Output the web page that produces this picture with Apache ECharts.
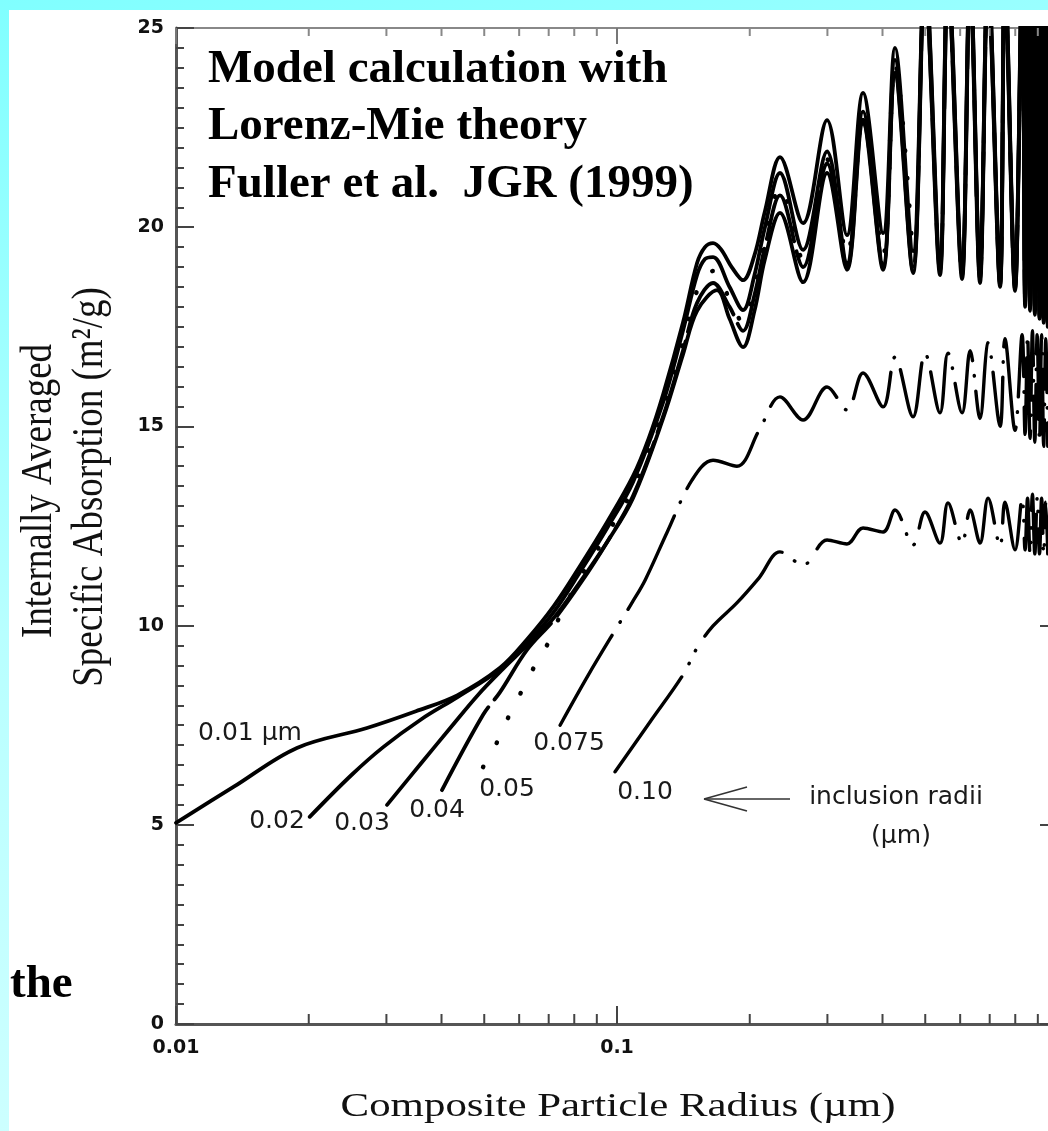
<!DOCTYPE html>
<html><head><meta charset="utf-8">
<script src="https://cdn.jsdelivr.net/npm/echarts@6/dist/echarts.min.js"></script>
<style>
html,body{margin:0;padding:0;}
body{width:1048px;height:1131px;position:relative;overflow:hidden;background:linear-gradient(165deg,#80ffff 0%,#b8ffff 45%,#d8ffff 100%);}
#paper{position:absolute;left:9px;top:10px;right:0;bottom:0;background:#fff;}
#chart{position:absolute;left:0;top:0;width:1048px;height:1131px;}
</style></head><body><div id="paper"></div><div id="chart"></div>
<script>
// ---------- data ----------
const xTickLabels = ['0.01', '0.1', '1'];
const minorXTicks = [0.02,0.03,0.04,0.05,0.06,0.07,0.08,0.09,0.2,0.3,0.4,0.5,0.6,0.7,0.8,0.9];

const r001 = [[0.01,5.05],[0.0135,5.95],[0.0188,6.93],[0.0271,7.43],[0.035,7.85],[0.0434,8.25],[0.0543,8.94],[0.0625,9.65],[0.072,10.5],[0.0825,11.5],[0.095,12.6],[0.1087,13.75],[0.118,14.7],[0.1272,15.8],[0.1411,17.6],[0.1519,19.1],[0.1583,19.5],[0.1651,19.6],[0.172,19.45],[0.182,19.0],[0.1931,18.67],[0.205,19.3],[0.2165,20.4],[0.2342,21.76],[0.2642,20.1],[0.2994,22.69],[0.3323,19.8],[0.3613,23.37],[0.4012,19.85],[0.427,24.5],[0.4691,19.4],[0.4993,26.5],[0.540,19.3],[0.563,26.5],[0.606,19.1],[0.632,26.5],[0.6655,18.9],[0.694,26.5],[0.739,18.8],[0.758,26.5],[0.799,18.7],[0.829,26.5],[0.842,18.4],[0.853,26.5],[0.864,18.2],[0.875,26.5],[0.886,18.0],[0.897,26.5],[0.908,17.9],[0.918,26.5],[0.928,17.8],[0.938,26.5],[0.948,17.7]];

const r002 = [[0.0201,5.2],[0.025,6.25],[0.0295,6.95],[0.036,7.65],[0.0434,8.2],[0.0543,8.9],[0.0625,9.55],[0.072,10.35],[0.0825,11.35],[0.095,12.45],[0.1087,13.6],[0.1272,15.6],[0.1411,17.4],[0.1519,18.8],[0.1583,19.2],[0.1651,19.25],[0.18,18.5],[0.1931,17.92],[0.205,18.8],[0.2165,20.0],[0.2342,21.36],[0.2642,19.43],[0.2994,21.9],[0.3323,19.1],[0.3613,22.9],[0.4012,19.05],[0.427,24.2],[0.4691,19.0],[0.4993,26.5],[0.540,19.0],[0.563,26.5],[0.606,18.9],[0.632,26.5],[0.6655,18.8],[0.694,26.5],[0.739,18.6],[0.758,26.5],[0.799,18.5],[0.829,26.5],[0.842,18.2],[0.853,26.5],[0.864,18.0],[0.875,26.5],[0.886,17.9],[0.897,26.5],[0.908,17.8],[0.918,26.5],[0.928,17.7],[0.938,26.5],[0.948,17.6]];

const r003 = [[0.0301,5.5],[0.036,6.55],[0.042,7.45],[0.0484,8.26],[0.055,8.9],[0.0625,9.5],[0.072,10.2],[0.0825,11.1],[0.095,12.1],[0.1087,13.2],[0.1272,15.2],[0.1411,16.8],[0.1519,17.9],[0.1686,18.42],[0.18,17.7],[0.1931,16.99],[0.205,17.9],[0.2165,19.2],[0.2342,20.36],[0.2642,18.62],[0.2994,21.36],[0.3323,18.93],[0.3613,22.6],[0.4012,18.93],[0.427,23.8],[0.4691,18.85],[0.4993,26],[0.540,18.8],[0.563,26],[0.606,18.7],[0.632,26],[0.6655,18.6],[0.694,26],[0.739,18.5],[0.758,26],[0.799,18.4],[0.829,26],[0.842,18.0],[0.853,26],[0.864,17.9],[0.875,26],[0.886,17.8],[0.897,26],[0.908,17.7],[0.918,26],[0.928,17.6],[0.938,26],[0.948,17.5]];

const r004 = [[0.0401,5.87],[0.0497,7.76],[0.0543,8.33],[0.0625,9.39],[0.072,10.15],[0.0825,11.05],[0.095,12.1],[0.1087,13.25],[0.1272,15.25],[0.1411,16.9],[0.1519,18.1],[0.1651,18.6],[0.18,18.0],[0.1931,17.4],[0.205,18.3],[0.2165,19.5],[0.2342,20.8],[0.2642,19.0],[0.2994,21.6],[0.3323,19.0],[0.3613,22.7],[0.4012,19.0],[0.427,24.0],[0.4691,18.9],[0.4993,26.2],[0.540,18.9],[0.563,26.2],[0.606,18.8],[0.632,26.2],[0.6655,18.7],[0.694,26.2],[0.739,18.55],[0.758,26.2],[0.799,18.45],[0.829,26.2],[0.842,18.1],[0.853,26.2],[0.864,17.95],[0.875,26.2],[0.886,17.85],[0.897,26.2],[0.908,17.75],[0.918,26.2],[0.928,17.65],[0.938,26.2],[0.948,17.55]];

const r005 = [[0.0497,6.45],[0.0535,7.08],[0.0566,7.68],[0.0603,8.28],[0.0645,8.91],[0.0694,9.51],[0.0735,10.14],[0.0825,11.2],[0.095,12.3],[0.1087,13.45],[0.1272,15.45],[0.1411,17.1],[0.1519,18.4],[0.1651,18.9],[0.18,18.2],[0.1931,17.6],[0.205,18.5],[0.2165,19.7],[0.2342,21.0],[0.2642,19.2],[0.2994,21.7],[0.3323,19.3],[0.3613,22.8],[0.4012,19.3],[0.427,24.1],[0.4691,19.2]];

const r0075 = [[0.0743,7.5],[0.086,8.75],[0.1,9.96],[0.1081,10.57],[0.1158,11.14],[0.13,12.35],[0.1479,13.65],[0.1651,14.15],[0.187,14.0],[0.21,14.9],[0.2342,15.74],[0.2642,15.16],[0.2994,15.99],[0.3323,15.41],[0.3613,16.34],[0.4012,15.49],[0.427,16.74],[0.4691,15.24],[0.4993,16.84],[0.540,15.34],[0.563,16.84],[0.606,15.34],[0.632,16.9],[0.6655,15.2],[0.694,17.1],[0.739,15.0],[0.758,17.2],[0.799,14.9],[0.829,17.3],[0.842,14.8],[0.853,17.3],[0.864,14.7],[0.875,17.4],[0.886,14.6],[0.897,17.3],[0.908,14.6],[0.918,17.3],[0.928,14.5],[0.938,17.2],[0.948,14.5]];

const r010 = [[0.099,6.33],[0.1188,7.58],[0.1411,8.76],[0.1519,9.44],[0.1651,9.99],[0.187,10.57],[0.21,11.2],[0.2342,11.85],[0.2642,11.52],[0.2994,12.15],[0.3323,12.05],[0.3613,12.45],[0.4012,12.35],[0.427,12.9],[0.4691,12.02],[0.4993,12.85],[0.540,12.07],[0.563,13.08],[0.606,12.07],[0.632,12.9],[0.6655,12.07],[0.694,13.2],[0.739,12.0],[0.758,13.1],[0.799,11.9],[0.829,13.2],[0.842,11.9],[0.853,13.2],[0.864,11.8],[0.875,13.3],[0.886,11.8],[0.897,13.2],[0.908,11.8],[0.918,13.2],[0.928,11.8],[0.938,13.1],[0.948,11.8]];

const radiusLabels = ['0.01 µm','0.02','0.03','0.04','0.05','0.075','0.10'];
const titleLines = ['Model calculation with','Lorenz-Mie theory','Fuller et al.  JGR (1999)'];

// ---------- chart ----------
const chart = echarts.init(document.getElementById('chart'), null, {renderer:'canvas'});

function curve(name, data, extra) {
  return {
    type:'line', name: name, data: data, symbol:'none', showSymbol:false,
    smooth:0.35, clip:true, z:3,
    lineStyle:Object.assign({color:'#000', width:3.8, cap:'round', join:'round'}, extra || {})
  };
}

const sansLbl = {fontFamily:'DejaVu Sans', fontSize:25, fill:'#1a1a1a'};
function lbl(text, x, y, style) {
  return {type:'text', x:x, y:y, z:20, style:Object.assign({text:text, align:'center', verticalAlign:'middle', textAlign:'center', textVerticalAlign:'middle'}, sansLbl, style||{})};
}
const titleFont = {fontFamily:'"Liberation Serif","Times New Roman",serif', fontWeight:'bold', fontSize:47, fill:'#000'};
function ttl(text, x, y) {
  return {type:'text', x:x, y:y, z:20, style:Object.assign({text:text, align:'left', verticalAlign:'middle', textAlign:'left', textVerticalAlign:'middle'}, titleFont)};
}

const tickFont = {fontFamily:'DejaVu Sans', fontSize:19, fontWeight:'bold', color:'#111'};

const axisCommonY = {
  type:'value', min:0, max:25, interval:5,
  axisLine:{show:true, onZero:false, lineStyle:{color:'#555', width:3}},
  axisTick:{show:true, inside:true, length:18, lineStyle:{color:'#444', width:2}},
  minorTick:{show:true, splitNumber:10, length:8, lineStyle:{color:'#444', width:2}},
  splitLine:{show:false}, minorSplitLine:{show:false}
};

const option = {
  animation:false,
  backgroundColor:'transparent',
  grid:{left:176, top:28, width:882, height:996, containLabel:false, outerBoundsMode:'none'},
  xAxis:[
    {type:'log', logBase:10, min:0.01, max:1, position:'bottom',
     axisLine:{show:true, onZero:false, lineStyle:{color:'#555', width:3}},
     axisTick:{show:true, inside:true, length:18, lineStyle:{color:'#444', width:2}},
     axisLabel:Object.assign({show:true, margin:15,
       formatter:function(v){ const k = Math.round(Math.log(v)/Math.LN10) + 2; return xTickLabels[k] || ''; }}, tickFont),
     splitLine:{show:false}},
    {type:'log', logBase:10, min:0.01, max:1, position:'top',
     axisLine:{show:true, onZero:false, lineStyle:{color:'#888', width:2}},
     axisTick:{show:true, inside:true, length:16, lineStyle:{color:'#777', width:2}},
     axisLabel:{show:false}, splitLine:{show:false}}
  ],
  yAxis:[
    Object.assign({}, axisCommonY, {position:'left',
      axisLabel:Object.assign({show:true, margin:12}, tickFont)}),
    Object.assign({}, axisCommonY, {position:'right', axisLabel:{show:false}})
  ],
  series:[
    {type:'custom', name:'minor x ticks', xAxisIndex:0, yAxisIndex:0, silent:true, clip:false, z:6,
     data: minorXTicks.map(function(v){ return [v, 0]; }),
     encode:{x:0, y:1},
     renderItem:function(params, api){
       const v = api.value(0);
       const b = api.coord([v, 0]);
       const t = api.coord([v, 25]);
       return {type:'group', children:[
         {type:'line', shape:{x1:b[0], y1:b[1], x2:b[0], y2:b[1]-10}, style:{stroke:'#444', lineWidth:2}},
         {type:'line', shape:{x1:t[0], y1:t[1], x2:t[0], y2:t[1]+8}, style:{stroke:'#888', lineWidth:2}}
       ]};
     }},
    curve('0.01 µm', r001),
    curve('0.02 µm', r002),
    curve('0.03 µm', r003),
    curve('0.04 µm', r004, {type:[95, 10]}),
    curve('0.05 µm', r005, {width:4.5, type:[0.5, 27]}),
    curve('0.075 µm', r0075, {width:3.4, type:[104, 15, 0.5, 15]}),
    curve('0.10 µm', r010, {width:3.4, type:[116, 15, 0.5, 14, 0.5, 17]})
  ],
  graphic:[
    ttl(titleLines[0], 208, 70),
    ttl(titleLines[1], 208, 127),
    ttl(titleLines[2], 208, 185),
    ttl('the', 10, 985),
    lbl(radiusLabels[0], 250, 733),
    lbl(radiusLabels[1], 277, 821),
    lbl(radiusLabels[2], 362, 823),
    lbl(radiusLabels[3], 437, 810),
    lbl(radiusLabels[4], 507, 789),
    lbl(radiusLabels[5], 569, 743),
    lbl(radiusLabels[6], 645, 792),
    lbl('inclusion radii', 896, 797),
    lbl('(µm)', 901, 836),
    {type:'line', z:20, shape:{x1:705, y1:799, x2:790, y2:799}, style:{stroke:'#333', lineWidth:1.6}},
    {type:'line', z:20, shape:{x1:704, y1:799, x2:747, y2:787}, style:{stroke:'#333', lineWidth:1.6}},
    {type:'line', z:20, shape:{x1:704, y1:799, x2:747, y2:811}, style:{stroke:'#333', lineWidth:1.6}},
    {type:'text', x:618, y:1107, scaleX:1.3, z:20,
     style:{text:'Composite Particle Radius (µm)', align:'center', verticalAlign:'middle', textAlign:'center', textVerticalAlign:'middle',
            fontFamily:'"Liberation Serif","Times New Roman",serif', fontSize:33, fill:'#111'}},
    {type:'text', x:39, y:491, rotation:Math.PI/2, scaleY:1.2, z:20,
     style:{text:'Internally Averaged', align:'center', verticalAlign:'middle', textAlign:'center', textVerticalAlign:'middle',
            fontFamily:'"Liberation Serif","Times New Roman",serif', fontSize:37, fill:'#111'}},
    {type:'text', x:90, y:487, rotation:Math.PI/2, scaleY:1.2, z:20,
     style:{text:'Specific Absorption (m²/g)', align:'center', verticalAlign:'middle', textAlign:'center', textVerticalAlign:'middle',
            fontFamily:'"Liberation Serif","Times New Roman",serif', fontSize:37, fill:'#111'}}
  ]
};
chart.setOption(option);
</script></body></html>
